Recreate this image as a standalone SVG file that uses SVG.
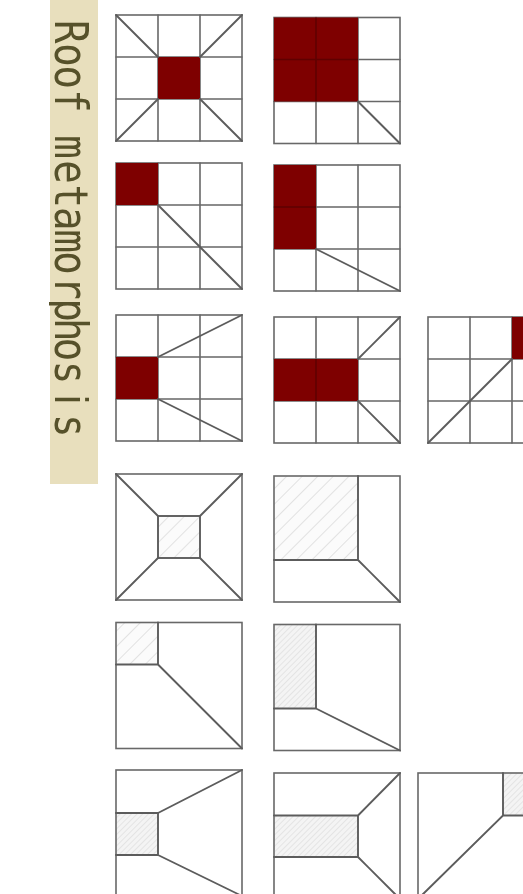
<svg xmlns="http://www.w3.org/2000/svg" width="523" height="894" viewBox="0 0 523 894">
<style>
.l{fill:none;stroke:#686868;stroke-width:1.6;stroke-linecap:round}
.d{fill:none;stroke:#5c5c5c;stroke-width:1.9;stroke-linecap:round}
.f{fill:#7e0505;stroke:none}
.m{fill:none;stroke:#5e0505;stroke-width:1.5}
.h1{fill:url(#hw);stroke:none}
.h2{fill:url(#hn);stroke:none}
.t{font-family:"DejaVu Sans Mono",monospace;font-size:46px;fill:#57512a}
.s{font-family:"Liberation Sans",sans-serif}
</style>
<defs>
<filter id="b" x="-5%" y="-5%" width="110%" height="110%"><feGaussianBlur stdDeviation="0.6"/></filter>
<clipPath id="c"><rect x="49" y="0" width="49" height="484"/></clipPath>
<pattern id="hw" width="11" height="11" patternUnits="userSpaceOnUse" patternTransform="rotate(45)"><rect width="11" height="11" fill="#fbfbfb"/><path d="M0 0V11" stroke="#dcdcdc" stroke-width="1.6"/></pattern>
<pattern id="hn" width="4" height="4" patternUnits="userSpaceOnUse" patternTransform="rotate(45)"><rect width="4" height="4" fill="#f4f4f4"/><path d="M0 0V4" stroke="#dedede" stroke-width="1.4"/></pattern>
<g id="grid"><rect class="l" width="126" height="126"/><path class="l" d="M42 0V126M84 0V126M0 42H126M0 84H126"/></g>
</defs>
<rect width="523" height="894" fill="#fff"/>
<g filter="url(#b)">
<g id="title"><rect x="50" y="0" width="48" height="484" fill="#e8dfbd"/>
<g clip-path="url(#c)"><text class="t" transform="translate(55 0) rotate(90) scale(0.85 1)" x="23.500 51 77 105 130 159 188.500 217 243.500 270 295.500 325 351 374 397.500 424.500 465 487">Roof metamorphos<tspan class="s">i</tspan>s</text></g></g>
<g id="n1"><use href="#grid" x="116" y="15"/><rect class="f" x="158" y="57" width="42" height="42"/><path class="d" d="M116 15L158 57M242 15L200 57M116 141L158 99M242 141L200 99"/></g>
<g id="n2"><use href="#grid" x="274" y="17.500"/><rect class="f" x="274" y="17.500" width="84" height="84"/><path class="m" d="M316 17.500V101.500M274 59.500H358"/><path class="d" d="M358 101.500L400 143.500"/></g>
<g id="n3"><use href="#grid" x="116" y="163"/><rect class="f" x="116" y="163" width="42" height="42"/><path class="d" d="M158 205L242 289"/></g>
<g id="n4"><use href="#grid" x="274" y="165"/><rect class="f" x="274" y="165" width="42" height="84"/><path class="m" d="M274 207H316"/><path class="d" d="M316 249L400 291"/></g>
<g id="n5"><use href="#grid" x="116" y="315"/><rect class="f" x="116" y="357" width="42" height="42"/><path class="d" d="M158 357L242 315M158 399L242 441"/></g>
<g id="n6"><use href="#grid" x="274" y="317"/><rect class="f" x="274" y="359" width="84" height="42"/><path class="m" d="M316 359V401"/><path class="d" d="M358 359L400 317M358 401L400 443"/></g>
<g id="n7"><use href="#grid" x="428" y="317"/><rect class="f" x="512" y="317" width="42" height="42"/><path class="d" d="M512 359L428 443"/></g>
<g id="n8"><rect class="h1" x="158" y="516" width="42" height="42"/><rect class="l" x="116" y="474" width="126" height="126"/><rect class="d" x="158" y="516" width="42" height="42"/><path class="d" d="M116 474L158 516M242 474L200 516M116 600L158 558M242 600L200 558"/></g>
<g id="n9"><rect class="h1" x="274" y="476" width="84" height="84"/><rect class="l" x="274" y="476" width="126" height="126"/><path class="d" d="M358 476V560H274M358 560L400 602"/></g>
<g id="n10"><rect class="h1" x="116" y="622.500" width="42" height="42"/><rect class="l" x="116" y="622.500" width="126" height="126"/><path class="d" d="M158 622.500V664.500H116M158 664.500L242 748.500"/></g>
<g id="n11"><rect class="h2" x="274" y="624.500" width="42" height="84"/><rect class="l" x="274" y="624.500" width="126" height="126"/><path class="d" d="M316 624.500V708.500H274M316 708.500L400 750.500"/></g>
<g id="n12"><rect class="h2" x="116" y="813" width="42" height="42"/><rect class="l" x="116" y="770" width="126" height="126"/><path class="d" d="M116 813H158V855H116M158 813L242 770M158 855L242 896"/></g>
<g id="n13"><rect class="h2" x="274" y="815.500" width="84" height="42"/><rect class="l" x="274" y="773" width="126" height="126"/><path class="d" d="M274 815.500H358V857H274M358 815.500L400 773M358 857L400 899"/></g>
<g id="n14"><rect class="h2" x="503" y="773" width="42" height="42.500"/><rect class="l" x="418" y="773" width="126" height="126"/><path class="d" d="M503 773V815.500H544M503 815.500L418 899"/></g>
</g>
</svg>
